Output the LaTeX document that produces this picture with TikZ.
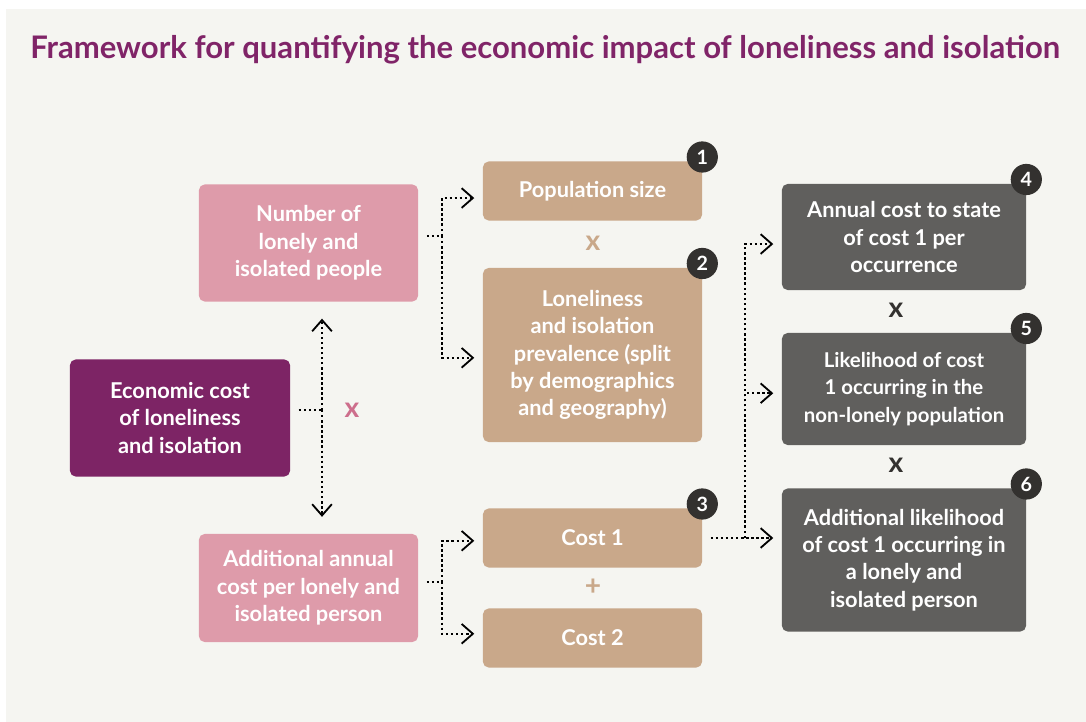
\documentclass[tikz,border=0pt]{standalone}
\usepackage{fontspec}
\setmainfont{Lato}
\usepackage{tikz}
\usetikzlibrary{arrows.meta, positioning, calc}
\definecolor{panelgray}{RGB}{245,245,241}
\definecolor{titlepurple}{RGB}{128,36,104}
\definecolor{plum}{RGB}{125,36,101}
\definecolor{rosepink}{RGB}{222,155,170}
\definecolor{sand}{RGB}{201,168,138}
\definecolor{slate}{RGB}{96,95,93}
\definecolor{ink}{RGB}{51,49,47}
\definecolor{opink}{RGB}{205,110,140}
\tikzset{
  basebox/.style={rectangle,rounded corners=4pt,align=center,text=white,
    font=\fontsize{15.5}{19.5}\selectfont\bfseries},
  rootnode/.style={basebox,fill=plum,minimum width=5.5cm,minimum height=2.925cm},
  factnode/.style={basebox,fill=rosepink,minimum width=5.475cm},
  partnode/.style={basebox,fill=sand,minimum width=5.475cm},
  statnode/.style={basebox,fill=slate,minimum width=6.1cm},
  badge/.style={circle,fill=ink,text=white,inner sep=0pt,minimum size=0.78cm,
    font=\fontsize{14}{14}\selectfont\bfseries},
  opsym/.style={font=\fontsize{20}{20}\selectfont\bfseries},
  dotline/.style={line width=1.8pt,dash pattern=on 1.7pt off 1.9pt,color=black},
  dotarr/.style={dotline,-{Straight Barb[length=8pt,width=14pt,line width=1.3pt]},
    shorten >=6pt}
}

\begin{document}
\begin{tikzpicture}[x=0.025cm,y=-0.025cm]
  \useasboundingbox (0,0) rectangle (1086,722);
  \fill[panelgray] (6,9) rectangle (1086,722);

  %% Title
  \node[anchor=base west,inner sep=0pt,text=titlepurple,
        font=\fontsize{22.1}{24}\selectfont\bfseries] (title) at (30,59)
        {Framework for quantifying the economic impact of loneliness and isolation};

  %% Left column
  \node[rootnode] (econ) at (180,418) {Economic cost\\of loneliness\\and isolation};
  \node[factnode,minimum height=2.925cm] (numppl) at (308.5,243) {Number of\\lonely and\\isolated people};
  \node[factnode,minimum height=2.7cm] (addcost) at (308.5,588) {Additional annual\\cost per lonely and\\isolated person};

  %% Middle column
  \node[partnode,minimum height=1.475cm] (popsize) at (592.5,191) {Population size};
  \node[partnode,minimum height=4.35cm] (prev) at (592.5,355)
        {Loneliness\\and isolation\\prevalence (split\\by demographics\\and geography)};
  \node[partnode,minimum height=1.475cm] (costone) at (592.5,538) {Cost 1};
  \node[partnode,minimum height=1.475cm] (costtwo) at (592.5,638) {Cost 2};

  %% Right column
  \node[statnode,minimum height=2.65cm] (annual) at (904,237) {Annual cost to state\\of cost 1 per\\occurrence};
  \node[statnode,minimum height=2.8cm,font=\fontsize{14.5}{19.5}\selectfont\bfseries] (likely) at (904,389)
        {Likelihood of cost\\1 occurring in the\\non-lonely population};
  \node[statnode,minimum height=3.575cm] (addlikely) at (904,560)
        {Additional likelihood\\of cost 1 occurring in\\a lonely and\\isolated person};

  %% Number badges
  \node[badge] (b1) at ([yshift=3]popsize.north east) {1};
  \node[badge] (b2) at ([yshift=3]prev.north east) {2};
  \node[badge] (b3) at ([yshift=3]costone.north east) {3};
  \node[badge] (b4) at ([yshift=3]annual.north east) {4};
  \node[badge] (b5) at ([yshift=3]likely.north east) {5};
  \node[badge] (b6) at ([yshift=3]addlikely.north east) {6};

  %% Operators
  \node[opsym,text=opink] (opa) at (352,410) {x};
  \node[opsym,text=sand] (opb) at (593,243) {x};
  \node[opsym,text=sand] (opc) at (593,587) {+};
  \node[opsym,text=ink] (opd) at (896,310) {x};
  \node[opsym,text=ink] (ope) at (896,465) {x};

  %% Connectors
  \coordinate (jecon) at (322,410);
  \coordinate (jnum) at (442,236);
  \coordinate (jadd) at (442,582);
  \coordinate (jcost) at (745,538);

  \draw[dotline] ([xshift=6]econ.east |- jecon) -- (jecon);
  \draw[dotarr,shorten >=12] (jecon) -- (jecon |- numppl.south);
  \draw[dotarr,shorten >=12] (jecon) -- (jecon |- addcost.north);

  \draw[dotline] ([xshift=6]numppl.east |- jnum) -- (jnum);
  \draw[dotarr] (jnum) |- ([yshift=-5]popsize.west);
  \draw[dotarr] (jnum) |- ([yshift=-2]prev.west);

  \draw[dotline] ([xshift=6]addcost.east |- jadd) -- (jadd);
  \draw[dotarr] (jadd) |- ([yshift=-2]costone.west);
  \draw[dotarr] (jadd) |- ([yshift=3]costtwo.west);

  \draw[dotarr] ([xshift=6]costone.east |- jcost) -- (jcost -| addlikely.west);
  \draw[dotarr] (jcost) |- ([yshift=-5]annual.west);
  \draw[dotarr] (jcost) |- ([yshift=-3]likely.west);
\end{tikzpicture}
\end{document}
